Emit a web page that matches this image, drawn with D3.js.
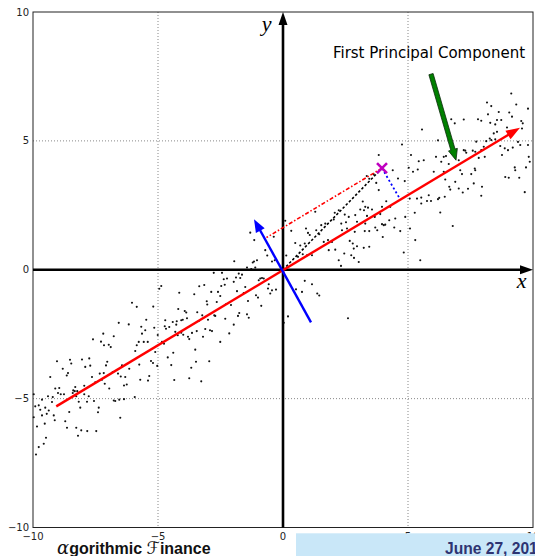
<!DOCTYPE html>
<html>
<head>
<meta charset="utf-8">
<script src="https://cdn.jsdelivr.net/npm/d3@7"></script>
<style>
  body { margin: 0; background: #fff; }
  svg { display: block; }
</style>
</head>
<body>
<div class="chart"></div>
<script>
// tick values and grid
const xTicks = [-10, -5, 0, 5, 10];
const yTicks = [-10, -5, 0, 5, 10];
const gridVals = [-5, 5];

// sample cloud (left -> right)
const dotsA = [[-9.97,-4.83],[-9.64,-5.04],[-9.77,-5.26],[-9.91,-5.30],[-9.71,-5.43],[-9.51,-5.35],[-9.40,-4.91],[-9.21,-4.94],[-9.24,-5.13],[-9.37,-5.46],[-9.45,-5.59],[-9.17,-5.65],[-9.13,-5.84],[-9.64,-5.65],[-9.97,-5.72],[-9.84,-6.08],[-9.53,-5.97],[-8.71,-5.88],[-8.64,-6.13],[-9.48,-6.52],[-9.57,-6.75],[-9.77,-6.88],[-9.88,-7.17],[-8.27,-6.13],[-8.07,-6.23],[-7.83,-6.26],[-7.47,-6.26],[-8.20,-6.44],[-9.11,-4.61],[-8.95,-4.59],[-9.00,-4.78],[-8.89,-4.83],[-8.76,-4.83],[-9.31,-4.16],[-9.04,-3.55],[-8.81,-3.84],[-8.60,-4.01],[-8.65,-4.10],[-8.52,-3.49],[-8.47,-3.64],[-8.04,-3.48],[-7.75,-3.44],[-7.91,-3.77],[-7.71,-3.72],[-7.60,-2.70],[-7.28,-2.79],[-7.16,-2.93],[-7.19,-2.48],[-6.97,-2.91],[-6.89,-3.00],[-6.77,-2.58],[-6.57,-2.06],[-6.17,-2.12],[-8.31,-4.55],[-8.39,-4.68],[-8.33,-4.71],[-8.23,-4.71],[-8.41,-4.78],[-7.95,-4.50],[-7.95,-4.83],[-8.27,-4.91],[-8.17,-5.12],[-7.77,-4.91],[-7.84,-5.12],[-7.56,-5.09],[-7.37,-5.35],[-7.40,-5.53],[-8.55,-5.52],[-8.11,-5.35],[-7.64,-4.16],[-7.33,-4.03],[-7.17,-4.01],[-7.08,-3.71],[-7.03,-3.57],[-7.13,-4.42],[-6.95,-4.61],[-6.81,-3.97],[-6.60,-4.03],[-6.49,-4.14],[-6.44,-3.71],[-6.15,-3.84],[-6.31,-4.16],[-6.36,-4.49],[-6.25,-4.45],[-6.77,-5.07],[-6.71,-5.09],[-6.55,-5.04],[-6.36,-5.02],[-6.51,-5.74],[-7.51,-4.37],[-7.24,-4.27]];
const dotsB = [[-2.77,-0.12],[-2.44,-0.12],[-2.37,-0.37],[-2.24,-0.34],[-2.47,-0.63],[-2.33,-0.58],[-4.95,-0.74],[-4.87,-0.63],[-3.35,-0.64],[-3.15,-0.59],[-4.15,-0.89],[-3.55,-0.95],[-2.87,-0.86],[-2.60,-0.86],[-2.51,-1.02],[-3.05,-1.22],[-3.03,-1.35],[-2.65,-1.25],[-2.27,-1.33],[-2.08,-1.37],[-6.04,-1.28],[-5.85,-1.44],[-5.19,-1.43],[-4.19,-1.52],[-3.93,-1.60],[-3.87,-1.66],[-3.43,-1.65],[-3.23,-1.77],[-3.37,-1.99],[-3.00,-1.94],[-2.75,-1.77],[-2.71,-1.79],[-2.31,-1.90],[-5.47,-1.94],[-5.67,-2.21],[-5.51,-2.35],[-5.64,-2.48],[-5.15,-2.25],[-4.71,-1.96],[-4.55,-2.22],[-4.73,-2.19],[-4.68,-2.29],[-4.41,-2.03],[-4.27,-2.13],[-4.25,-2.00],[-4.07,-1.96],[-4.01,-1.94],[-3.84,-1.88],[-4.31,-2.41],[-4.21,-2.54],[-4.07,-2.44],[-3.99,-2.52],[-3.80,-2.60],[-3.75,-2.69],[-3.64,-2.45],[-3.45,-2.38],[-3.20,-2.60],[-3.11,-2.30],[-2.92,-2.35],[-2.84,-2.38],[-2.51,-2.80],[-2.15,-2.47],[-5.77,-2.80],[-5.57,-2.80],[-5.41,-2.80],[-5.01,-2.53],[-4.84,-2.80],[-4.76,-2.87],[-5.91,-3.15],[-5.85,-2.93],[-5.11,-3.19],[-5.28,-3.54],[-5.20,-3.62],[-5.03,-3.73],[-4.61,-3.40],[-4.39,-3.22],[-4.47,-3.70],[-3.51,-3.10],[-3.48,-3.57],[-3.67,-3.80],[-2.95,-3.55],[-5.75,-3.68],[-5.35,-4.12],[-5.40,-4.30],[-5.71,-4.27],[-4.35,-4.28],[-3.75,-4.21],[-3.27,-4.33],[-5.93,-4.94]];
const dotsC = [[0.09,1.90],[0.33,1.51],[-0.37,1.28],[-1.15,1.15],[-1.31,1.44],[0.49,1.04],[0.69,0.94],[0.87,1.02],[0.92,1.60],[1.00,1.43],[1.07,1.35],[1.33,1.53],[1.53,1.73],[1.69,1.79],[1.29,2.25],[1.45,1.38],[1.63,1.08],[1.80,1.15],[1.83,0.76],[-0.71,0.76],[-0.63,0.55],[-0.44,0.32],[-1.95,0.33],[-1.21,0.28],[-1.16,0.32],[-1.04,0.37],[-1.44,0.09],[-1.27,0.03],[-1.11,0.09],[-0.33,0.37],[0.60,0.50],[0.79,0.60],[0.96,0.56],[1.16,0.56],[0.13,0.55],[-1.77,-0.15],[-1.64,-0.19],[-1.88,-0.30],[-1.71,-0.32],[-1.97,-0.47],[-0.91,-0.34],[-0.84,-0.32],[-0.77,-0.34],[-0.97,-0.41],[-0.57,-0.56],[-0.60,-0.73],[-0.44,-0.80],[-0.28,-0.77],[-0.51,-0.92],[-1.51,-0.67],[-1.57,-0.90],[-1.84,-0.83],[-1.08,-0.99],[-1.00,-1.08],[-0.87,-1.40],[-1.40,-1.21],[-1.75,-1.68],[-1.80,-1.79],[-1.44,-1.73],[-1.37,-1.86],[-1.97,-2.13],[0.87,-0.43],[0.52,-0.76],[0.76,-0.86],[1.16,-0.56],[1.37,-0.92],[1.45,-1.00],[0.20,-1.81],[0.03,-2.06],[2.60,-1.88]];
const dotsD = [[5.56,5.44],[4.76,4.86],[3.83,4.45],[5.12,4.45],[5.43,4.21],[5.63,4.25],[5.03,3.96],[5.20,3.80],[5.39,3.89],[4.39,3.86],[4.60,3.54],[4.87,3.44],[3.35,3.64],[3.63,3.70],[3.45,3.53],[3.73,3.37],[3.83,3.09],[5.07,2.76],[5.36,2.76],[5.53,2.80],[5.76,2.67],[5.83,2.89],[5.92,2.67],[5.53,2.57],[5.27,2.21],[4.89,2.05],[5.08,1.60],[4.69,1.50],[4.45,1.64],[4.25,1.92],[4.49,1.99],[3.96,2.44],[4.13,2.66],[4.29,2.44],[3.89,2.16],[3.69,1.64],[3.77,1.53],[3.99,1.27],[3.96,1.77],[4.03,1.73],[4.09,1.75],[3.29,2.44],[3.40,2.41],[3.56,2.34],[3.24,2.31],[3.09,2.34],[3.19,2.65],[3.36,2.09],[3.67,2.05],[2.89,2.12],[2.96,1.86],[2.63,2.05],[2.47,2.14],[2.33,1.79],[2.52,1.84],[2.23,2.31],[2.07,2.21],[2.03,1.95],[2.56,1.60],[2.36,1.53],[2.87,1.47],[3.27,1.50],[3.29,1.79],[3.45,1.50],[2.67,1.12],[2.79,1.02],[2.83,0.82],[2.96,0.91],[2.73,0.56],[2.84,0.46],[3.03,0.30],[2.45,0.63],[2.23,0.37],[2.32,0.15],[3.23,0.85],[3.45,0.89],[1.96,1.08],[2.09,0.78],[5.29,1.15],[4.83,0.67],[5.49,0.37]];
const dotsE = [[9.13,6.84],[8.16,6.49],[8.33,6.35],[9.33,6.41],[9.80,6.25],[8.63,6.12],[9.05,6.10],[8.20,6.03],[9.16,5.94],[7.80,5.84],[7.93,5.78],[7.23,5.83],[6.73,5.84],[6.87,5.68],[8.29,5.70],[8.56,5.81],[8.73,5.81],[8.49,5.64],[8.96,5.52],[9.53,5.77],[9.59,5.68],[9.56,5.48],[8.43,5.29],[8.56,5.35],[6.20,5.02],[7.73,4.97],[8.13,4.99],[8.27,5.09],[8.33,5.03],[8.49,5.06],[8.69,4.80],[8.87,4.71],[9.19,4.74],[9.00,4.64],[9.40,4.96],[9.49,4.84],[9.80,4.84],[8.03,4.77],[7.93,4.64],[7.59,4.62],[7.69,4.58],[7.29,4.62],[7.33,4.54],[7.23,4.64],[6.52,4.41],[6.43,4.38],[6.12,4.38],[6.33,4.19],[6.63,4.10],[7.03,4.25],[7.83,4.34],[8.07,4.38],[8.76,4.45],[9.83,4.38],[9.87,4.19],[9.72,3.97],[9.27,3.97],[9.29,3.86],[7.09,3.86],[7.16,3.71],[7.53,3.71],[7.67,3.93],[7.69,3.86],[6.89,3.41],[6.65,3.22],[6.69,3.11],[7.03,3.15],[7.19,3.00],[7.40,3.14],[7.63,3.35],[7.96,3.22],[7.93,2.87],[9.45,3.57],[8.89,3.60],[9.03,3.57],[9.67,3.01],[6.47,2.83],[6.20,2.74],[6.25,2.79],[6.29,2.22],[6.79,1.70],[6.03,3.80],[6.43,3.80],[6.49,3.50]];

// principal directions, the sample point and its projections
const pc1 = [[-9.07, -5.30], [9.48, 5.51]];
const pc2 = [[1.12, -2.04], [-1.16, 1.96]];
const samplePt = [3.96, 3.94];
const onPc2 = [-0.66, 1.25];
const onPc1 = [4.70, 2.71];

// annotation
const annText = "First Principal Component";
const annAt = [5.84, 8.2];
const annFrom = [5.92, 7.59];
const annTo = [6.92, 4.25];

const W = 535, H = 556;
const margin = {top: 12, right: 2, bottom: 28.5, left: 33};
const width = W - margin.left - margin.right,
      height = H - margin.top - margin.bottom;

const root = d3.select(".chart").append("svg")
    .attr("width", W)
    .attr("height", H);

const svg = root.append("g")
    .attr("transform", `translate(${margin.left},${margin.top})`);

const x = d3.scaleLinear().domain([-10, 10]).range([0, width]);
const y = d3.scaleLinear().domain([-10, 10]).range([height, 0]);

// dotted grid
svg.selectAll(".gx").data(gridVals).enter().append("line")
    .attr("x1", d => x(d)).attr("x2", d => x(d))
    .attr("y1", 0).attr("y2", height)
    .attr("stroke", "#888").attr("stroke-width", 1)
    .attr("stroke-dasharray", "1,2");
svg.selectAll(".gy").data(gridVals).enter().append("line")
    .attr("y1", d => y(d)).attr("y2", d => y(d))
    .attr("x1", 0).attr("x2", width)
    .attr("stroke", "#888").attr("stroke-width", 1)
    .attr("stroke-dasharray", "1,2");

// frame
svg.append("rect")
    .attr("width", width).attr("height", height)
    .attr("fill", "none").attr("stroke", "#222").attr("stroke-width", 1);

// tick labels
const fmt = d => d < 0 ? "\u2212" + Math.abs(d) : String(d);
svg.selectAll(".ylab").data(yTicks).enter().append("text")
    .attr("x", -4).attr("y", d => y(d)).attr("dy", "0.36em")
    .attr("text-anchor", "end")
    .style("font", "10px 'DejaVu Sans'").attr("fill", "#222")
    .text(fmt);
svg.selectAll(".xlab").data(xTicks).enter().append("text")
    .attr("x", d => x(d)).attr("y", height + 12.5)
    .attr("text-anchor", "middle")
    .style("font", "10px 'DejaVu Sans'").attr("fill", "#222")
    .text(fmt);

// scatter
const dots = dotsA.concat(dotsB, dotsC, dotsD, dotsE);
svg.selectAll(".dot").data(dots).enter().append("circle")
    .attr("cx", d => x(d[0])).attr("cy", d => y(d[1]))
    .attr("r", 1.05).attr("fill", "#111");

function arrow(p0, p1, color, lw, headL, headW) {
    const x0 = x(p0[0]), y0 = y(p0[1]), x1 = x(p1[0]), y1 = y(p1[1]);
    const len = Math.hypot(x1 - x0, y1 - y0);
    const ux = (x1 - x0) / len, uy = (y1 - y0) / len;
    const bx = x1 - ux * headL, by = y1 - uy * headL;
    svg.append("line")
        .attr("x1", x0).attr("y1", y0)
        .attr("x2", bx + ux).attr("y2", by + uy)
        .attr("stroke", color).attr("stroke-width", lw);
    svg.append("path")
        .attr("d", `M${x1},${y1}L${bx - uy * headW / 2},${by + ux * headW / 2}L${bx + uy * headW / 2},${by - ux * headW / 2}Z`)
        .attr("fill", color);
}

// coordinate axes with arrow heads
arrow([xTicks[0], 0], [xTicks[4], 0], "#000", 2.6, 13, 9);
arrow([0, yTicks[0]], [0, yTicks[4]], "#000", 2.6, 13, 9);

svg.append("text").attr("x", x(9.35)).attr("y", y(-0.72))
    .style("font", "italic 22px 'Liberation Serif'").text("x");
svg.append("text").attr("x", x(-0.85)).attr("y", y(9.25))
    .style("font", "italic 22px 'Liberation Serif'").text("y");

// projections
function seg(p0, p1, color, lw, dash) {
    svg.append("line")
        .attr("x1", x(p0[0])).attr("y1", y(p0[1]))
        .attr("x2", x(p1[0])).attr("y2", y(p1[1]))
        .attr("stroke", color).attr("stroke-width", lw)
        .attr("stroke-dasharray", dash);
}
seg([0, 0], samplePt, "#000", 1.6, "2.5,2");
seg(samplePt, onPc2, "#ff0000", 1.6, "4,2,1.5,2");
seg(samplePt, onPc1, "#0000ff", 1.8, "2,2.5");

// principal components
arrow(pc1[0], pc1[1], "#ff0000", 2.4, 14, 10);
arrow(pc2[0], pc2[1], "#0000ff", 2.4, 13, 10);

// sample point marker
const mx = x(samplePt[0]), my = y(samplePt[1]), ms = 5;
svg.append("path")
    .attr("d", `M${mx - ms},${my - ms}L${mx + ms},${my + ms}M${mx - ms},${my + ms}L${mx + ms},${my - ms}`)
    .attr("stroke", "#bf00bf").attr("stroke-width", 2.6);

// annotation with green pointer
svg.append("text")
    .attr("x", x(annAt[0])).attr("y", y(annAt[1]))
    .attr("text-anchor", "middle")
    .style("font", "15px 'DejaVu Sans'").attr("fill", "#000")
    .text(annText);

{
    const x0 = x(annFrom[0]), y0 = y(annFrom[1]), x1 = x(annTo[0]), y1 = y(annTo[1]);
    const len = Math.hypot(x1 - x0, y1 - y0);
    const ux = (x1 - x0) / len, uy = (y1 - y0) / len;
    const sw = 2.2, hw = 4.6, hl = 11;
    const bx = x1 - ux * hl, by = y1 - uy * hl;
    const pts = [
        [x0 - uy * sw, y0 + ux * sw],
        [bx - uy * sw, by + ux * sw],
        [bx - uy * hw, by + ux * hw],
        [x1, y1],
        [bx + uy * hw, by - ux * hw],
        [bx + uy * sw, by - ux * sw],
        [x0 + uy * sw, y0 - ux * sw]
    ];
    svg.append("path")
        .attr("d", "M" + pts.map(p => p.join(",")).join("L") + "Z")
        .attr("fill", "#008000").attr("stroke", "#0a2a0a").attr("stroke-width", 0.8);
}

// slide footer
root.append("rect")
    .attr("x", 296).attr("y", 533.3).attr("width", W - 296).attr("height", H - 533.3)
    .attr("fill", "#c9e7f8");
root.append("text")
    .attr("x", 445).attr("y", 553.5)
    .style("font", "bold 15.6px 'Liberation Sans'").attr("fill", "#2e3472")
    .text("June 27, 2016");

const foot = root.append("text")
    .attr("x", 57).attr("y", 553.5)
    .style("font", "bold 16px 'Liberation Sans'").attr("fill", "#111");
foot.append("tspan").style("font", "italic 18px 'DejaVu Serif'").text("\u03b1");
foot.append("tspan").text("gorithmic ");
foot.append("tspan").style("font", "italic 17px 'DejaVu Sans'").text("\u2131");
foot.append("tspan").text("inance");
</script>
</body>
</html>
